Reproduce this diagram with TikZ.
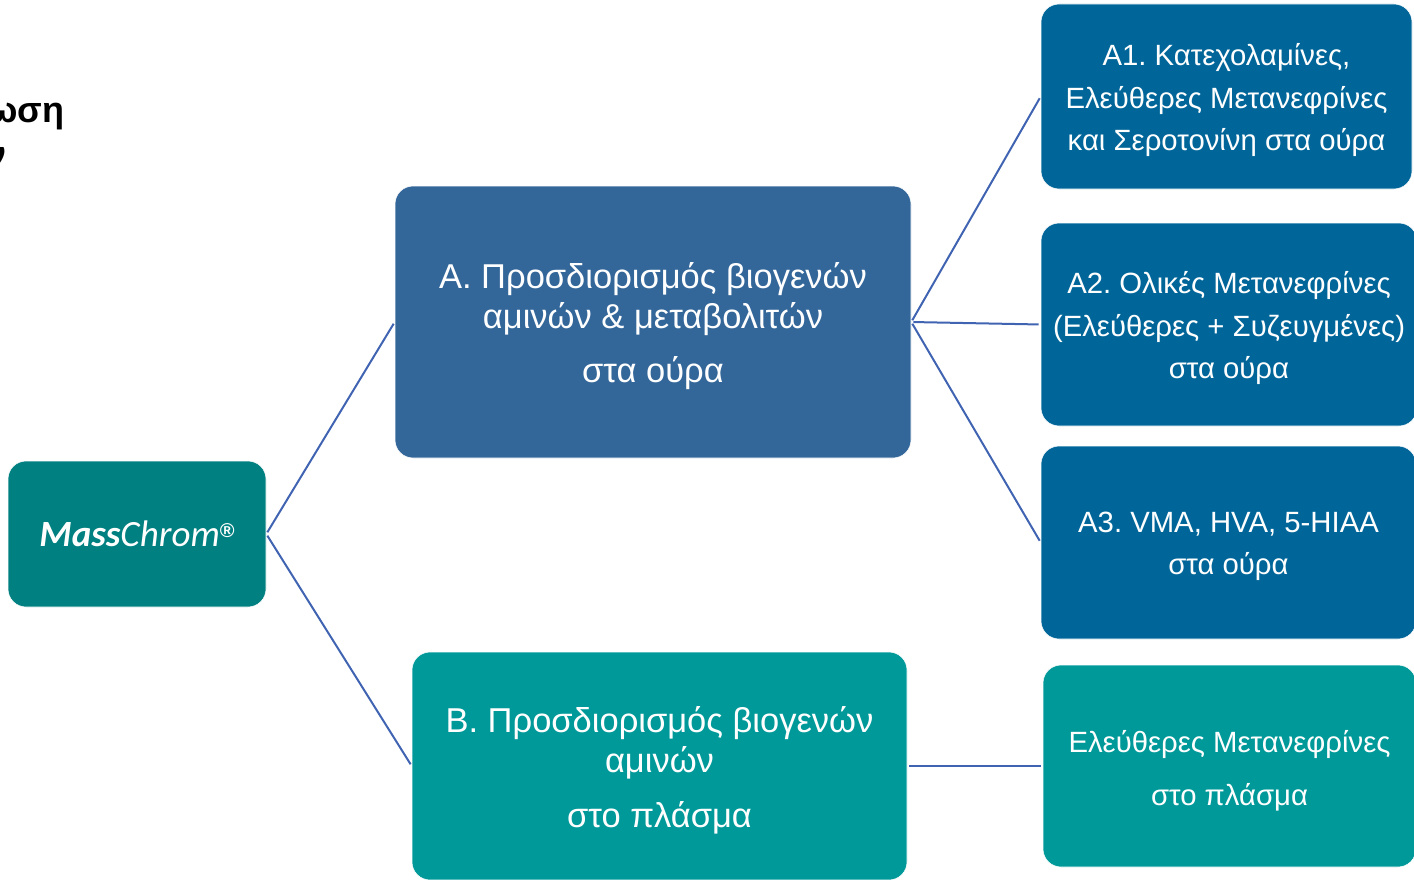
\documentclass[tikz,border=0pt]{standalone}
\usepackage{fontspec}
\setmainfont{Liberation Sans}
\newfontfamily\brandfont{Carlito}
\frenchspacing
\definecolor{chromTeal}{RGB}{0,128,128}
\definecolor{urineBlue}{RGB}{51,102,153}
\definecolor{subBlue}{RGB}{0,102,153}
\definecolor{plasmaTeal}{RGB}{0,153,153}
\definecolor{linkBlue}{RGB}{64,100,178}

\begin{document}
\begin{tikzpicture}[x=1pt, y=-1pt,
    box/.style={rounded corners=18pt, inner sep=0pt, draw=white, line width=0.6pt},
    boxtext/.style={text=white, align=center, inner sep=0pt},
    bigtext/.style={boxtext, font=\fontsize{34.5}{40}\selectfont},
    subtext/.style={boxtext, font=\fontsize{29.3}{42.5}\selectfont},
    link/.style={draw=linkBlue, line width=2pt, shorten <=2pt, shorten >=2pt}]

    \useasboundingbox (0,0) rectangle (1414,880);

    % --- cut-off title ---
    \node[anchor=base east, font=\bfseries\fontsize{36}{40}\selectfont] (titleA) at (68,123) {ωση};
    \node[anchor=base east, font=\bfseries\fontsize{36}{40}\selectfont] (titleB) at (10,167) {ν};

    % --- boxes ---
    \node[box, fill=chromTeal, minimum width=258, minimum height=146] (mass) at (137,534) {};
    \node[box, fill=urineBlue, minimum width=516, minimum height=272] (urine) at (653,322) {};
    \node[box, fill=plasmaTeal, minimum width=495, minimum height=228] (plasma) at (659.5,766) {};
    \node[box, fill=subBlue, minimum width=371, minimum height=185] (catech) at (1226.5,96.5) {};
    \node[box, fill=subBlue, minimum width=376, minimum height=203] (totalMet) at (1229,324.5) {};
    \node[box, fill=subBlue, minimum width=375, minimum height=193] (acids) at (1228.5,542.5) {};
    \node[box, fill=plasmaTeal, minimum width=373, minimum height=202] (freeMet) at (1229.5,766) {};

    % --- texts ---
    \node[boxtext, font=\brandfont\fontsize{37}{40}\selectfont\itshape, anchor=base] (massText) at (137,546)
        {\textbf{Mass}Chrom\raisebox{9pt}{\normalfont\bfseries\fontsize{20}{20}\selectfont ®}};
    \node[bigtext] (urineText) at ([yshift=-4pt]urine.center)
        {A. Προσδιορισμός βιογενών\\ αμινών \& μεταβολιτών\\[14pt] στα ούρα};
    \node[bigtext] (plasmaText) at ([yshift=-4pt]plasma.center)
        {B. Προσδιορισμός βιογενών\\ αμινών\\[15pt] στο πλάσμα};
    \node[subtext] (catechText) at ([yshift=-4pt]catech.center)
        {A1. Κατεχολαμίνες,\\ Ελεύθερες Μετανεφρίνες\\ και Σεροτονίνη στα ούρα};
    \node[subtext] (totalMetText) at ([yshift=-4pt]totalMet.center)
        {A2. Ολικές Μετανεφρίνες\\ (Ελεύθερες + Συζευγμένες)\\ στα ούρα};
    \node[subtext] (acidsText) at ([yshift=-4pt]acids.center)
        {A3. VMA, HVA, 5-HIAA\\ στα ούρα};
    \node[subtext] (freeMetText) at ([yshift=-5pt]freeMet.center)
        {Ελεύθερες Μετανεφρίνες\\[10.5pt] στο πλάσμα};

    % --- connectors ---
    \draw[link] (mass.east) -- (urine.west);
    \draw[link] (mass.east) -- (plasma.west);
    \draw[link] (urine.east) -- (catech.west);
    \draw[link] (urine.east) -- (totalMet.west);
    \draw[link] (urine.east) -- (acids.west);
    \draw[link] (plasma.east) -- (freeMet.west);

\end{tikzpicture}
\end{document}
